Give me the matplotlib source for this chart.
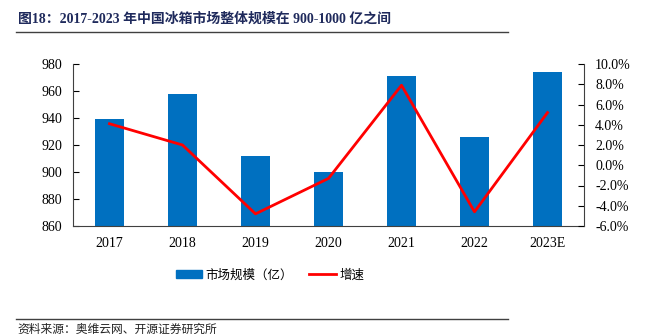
import numpy as np
import matplotlib.pyplot as plt
from matplotlib.lines import Line2D
from matplotlib.patches import Patch

plt.rcParams['font.family'] = ['Liberation Serif', 'Noto Sans CJK SC', 'DejaVu Sans']

years = ['2017', '2018', '2019', '2020', '2021', '2022', '2023E']
market = [939, 958, 912, 900, 971, 926, 974]
growth = [4.1, 2.0, -4.8, -1.3, 7.9, -4.6, 5.2]

bar_color = '#0070C0'
line_color = '#FF0000'

fig = plt.figure(figsize=(6.54, 3.34), dpi=100)
ax1 = fig.add_axes([73/654, 1-226/334, (584-73)/654, (226-64)/334])
x = np.arange(len(years))
ax1.bar(x, [m - 860 for m in market], bottom=860, width=0.4, color=bar_color, zorder=2)
ax1.set_ylim(860, 980)
ax1.set_yticks(np.arange(860, 981, 20))
ax1.set_xlim(-0.5, len(years) - 0.5)
ax1.set_xticks(x)
ax1.set_xticklabels(years)
ax1.tick_params(axis='y', direction='in', length=4, labelsize=10, pad=8)
ax1.tick_params(axis='x', length=0, labelsize=10, pad=8)
for s in ['top', 'right']:
    ax1.spines[s].set_visible(False)
ax1.spines['left'].set_color('#404040')
ax1.spines['bottom'].set_color('#404040')

ax2 = ax1.twinx()
ax2.plot(x, growth, color=line_color, linewidth=2, zorder=3)
ax2.set_ylim(-6, 10)
ax2.set_yticks(np.arange(-6, 10.1, 2))
ax2.set_yticklabels(['%.1f%%' % v for v in np.arange(-6, 10.1, 2)])
ax2.tick_params(axis='y', direction='in', length=4, labelsize=10, pad=8)
for s in ['top', 'left', 'bottom']:
    ax2.spines[s].set_visible(False)
ax2.spines['right'].set_color('#404040')

# legend
handles = [Patch(color=bar_color), Line2D([0], [0], color=line_color, lw=2)]
fig.legend(handles, ['市场规模（亿）', '增速'], loc='center', bbox_to_anchor=(270/654, 1-275/334),
           ncol=2, frameon=False, handlelength=2.1, handleheight=0.6,
           columnspacing=1.3, handletextpad=0.3, prop={'family': ['Noto Sans CJK SC'], 'size': 9})

# title and footer
fig.text(18/654, 1-19/334, '图18：2017-2023 年中国冰箱市场整体规模在 900-1000 亿之间',
         fontsize=10, fontweight='bold', color='#1F2A5C', va='center', ha='left')
fig.add_artist(Line2D([16/654, 508/654], [1-32/334, 1-32/334], color='#404040', lw=1))
fig.add_artist(Line2D([16/654, 508/654], [1-319/334, 1-319/334], color='#404040', lw=1))
fig.text(17/654, 1-329/334, '资料来源：奥维云网、开源证券研究所', fontsize=8.5,
         family=['Noto Sans CJK SC'], va='center', ha='left', color='#222222')

fig.savefig('out.png', dpi=100)
